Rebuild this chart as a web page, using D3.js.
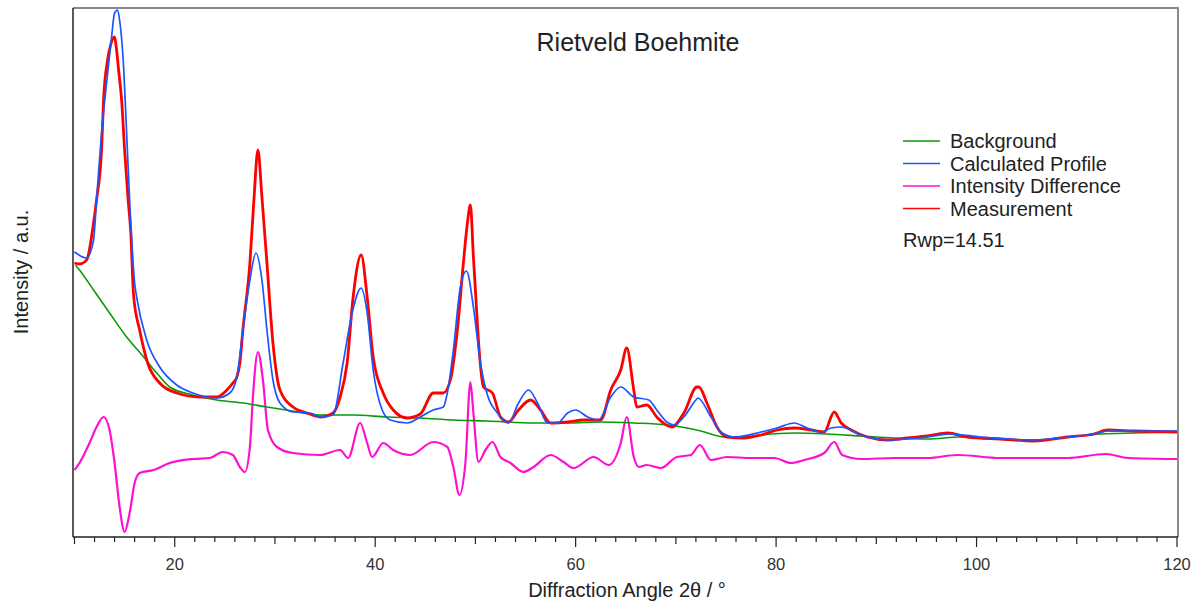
<!DOCTYPE html>
<html>
<head>
<meta charset="utf-8">
<script src="https://cdn.jsdelivr.net/npm/d3@7"></script>
<style>
  body { margin: 0; background: #fff; }
  svg { font-family: "Liberation Sans", Arial, sans-serif; }
</style>
</head>
<body>
<div id="chart"></div>
<script>
// data: [2theta, intensity a.u.]
const background = [
  [10.1, 272], [10.5, 267], [11.9, 247], [13.5, 224], [15.2, 200], [16.9, 180], [18.2, 164],
  [19.5, 150], [21.8, 142], [24.2, 137], [26.8, 134], [29.2, 130], [31.8, 126], [34.5, 122],
  [37.8, 122], [41.2, 120], [44.5, 119], [47.8, 117], [51.2, 116], [55.8, 114], [59.2, 114],
  [62.5, 115], [65.8, 114], [69.1, 112], [71.1, 109], [72.5, 106], [74.8, 100], [76.8, 100],
  [78.5, 102], [81.8, 104], [85.1, 103], [88.5, 101], [91.8, 99], [95.1, 98], [98.4, 100],
  [102.4, 98], [105.7, 97], [109.1, 100], [112.4, 103], [115.7, 104], [120.0, 105]
];

const calculated = [
  [10.0, 285], [11.2, 279], [11.9, 297], [12.2, 337], [12.7, 404], [13.2, 454], [13.7, 500],
  [14.0, 524], [14.3, 527], [14.5, 517], [14.9, 470], [15.2, 404], [15.5, 337], [16.0, 254],
  [16.2, 240], [17.2, 197], [18.5, 170], [20.2, 152], [21.8, 144], [24.2, 139], [25.5, 144],
  [26.2, 160], [26.8, 207], [27.5, 257], [28.1, 284], [28.7, 257], [29.2, 207], [29.8, 157],
  [30.5, 134], [31.8, 125], [33.5, 124], [34.5, 120], [35.8, 122], [36.8, 174], [37.7, 224],
  [38.6, 249], [39.2, 224], [39.8, 167], [40.7, 127], [41.5, 117], [43.2, 114], [44.5, 120],
  [45.8, 127], [46.8, 130], [47.2, 144], [47.8, 187], [48.5, 250], [49.1, 266], [49.8, 230],
  [50.5, 174], [51.2, 142], [52.2, 124], [53.3, 114], [54.3, 134], [55.3, 147], [56.2, 134],
  [57.2, 114], [58.2, 114], [59.2, 124], [60.0, 127], [61.2, 120], [62.3, 117], [63.5, 140],
  [64.5, 150], [65.8, 140], [67.3, 137], [68.1, 127], [69.1, 115], [69.8, 112], [70.8, 120],
  [72.0, 137], [72.2, 139], [73.5, 120], [74.5, 105], [75.8, 100], [78.5, 105], [80.1, 109],
  [81.8, 114], [83.1, 109], [84.5, 105], [85.5, 109], [86.5, 110], [87.8, 105], [89.1, 100],
  [91.1, 97], [95.1, 100], [97.4, 103], [100.4, 100], [105.7, 97], [109.1, 100], [111.7, 103],
  [113.1, 106], [115.7, 106], [120.0, 106]
];

const difference = [
  [10.0, 67], [10.5, 74], [11.5, 94], [12.2, 110], [12.9, 120], [13.5, 107], [14.0, 74],
  [14.5, 30], [15.0, 5], [15.5, 24], [16.0, 54], [16.5, 64], [17.9, 67], [19.5, 74],
  [21.8, 78], [23.5, 79], [24.8, 85], [25.8, 82], [26.5, 70], [27.0, 65], [27.5, 90],
  [27.8, 140], [28.3, 185], [28.8, 157], [29.3, 107], [30.2, 90], [31.8, 84], [34.5, 82],
  [36.5, 87], [37.3, 79], [38.5, 114], [39.2, 94], [39.7, 80], [40.8, 94], [41.8, 87],
  [43.5, 82], [45.8, 95], [47.2, 90], [47.8, 70], [48.4, 42], [49.0, 74], [49.5, 155],
  [49.8, 124], [50.3, 75], [51.0, 87], [51.7, 95], [52.5, 80], [53.5, 74], [54.8, 65],
  [55.8, 70], [57.5, 82], [58.8, 75], [59.8, 69], [61.8, 80], [63.3, 72], [64.5, 94],
  [65.1, 120], [65.8, 80], [66.3, 70], [67.1, 72], [68.5, 69], [70.1, 80], [71.5, 82],
  [72.4, 92], [73.5, 77], [75.1, 80], [77.5, 79], [79.8, 79], [81.5, 74], [82.8, 77],
  [84.8, 84], [85.8, 95], [86.6, 82], [88.5, 78], [91.8, 79], [95.1, 79], [98.1, 82],
  [102.4, 79], [109.1, 79], [112.9, 83], [115.1, 79], [120.0, 78]
];

const measurement = [
  [10.0, 274], [10.5, 273], [11.0, 275], [11.3, 279], [11.8, 307], [12.2, 337], [12.7, 387],
  [12.9, 437], [13.3, 477], [13.6, 492], [14.0, 500], [14.2, 487], [14.4, 467], [14.7, 437],
  [15.0, 387], [15.35, 337], [15.6, 307], [15.9, 241], [16.5, 207], [17.3, 174], [18.5, 154],
  [20.2, 144], [22.5, 140], [24.2, 140], [25.2, 147], [25.8, 154], [26.2, 160], [26.5, 174],
  [26.8, 207], [27.5, 274], [27.9, 337], [28.3, 387], [28.7, 340], [29.2, 274], [29.8, 194],
  [30.5, 147], [31.8, 130], [33.2, 124], [34.5, 120], [35.8, 124], [36.5, 140], [37.2, 174],
  [37.8, 240], [38.6, 282], [39.2, 240], [39.8, 180], [40.8, 144], [41.8, 127], [43.2, 119],
  [44.5, 123], [45.8, 144], [46.8, 144], [47.5, 157], [48.2, 207], [48.8, 274], [49.2, 314],
  [49.5, 332], [49.8, 280], [50.0, 247], [50.3, 197], [50.8, 150], [51.7, 144], [52.5, 120],
  [53.3, 115], [54.3, 127], [55.5, 137], [56.5, 127], [57.5, 114], [59.2, 115], [60.8, 117],
  [62.5, 117], [63.5, 147], [64.5, 167], [65.1, 189], [65.8, 147], [66.1, 130], [67.1, 132],
  [68.1, 120], [69.6, 110], [70.8, 124], [72.1, 150], [72.3, 150], [73.1, 134], [74.1, 110],
  [75.1, 100], [76.8, 99], [78.5, 102], [80.1, 107], [81.8, 109], [83.5, 107], [84.8, 105],
  [85.8, 125], [86.5, 114], [87.5, 107], [89.1, 100], [91.1, 97], [93.1, 99], [95.1, 101],
  [97.1, 104], [99.1, 100], [102.4, 98], [105.7, 96], [109.1, 100], [111.7, 103], [113.1, 107],
  [115.7, 106], [120.0, 105]
];

const seriesNames = ["Background", "Calculated Profile", "Intensity Difference", "Measurement"];
const seriesColors = ["#0a9a0a", "#1a56ff", "#ff10d0", "#ff0000"];
const seriesWidths = [1.6, 1.7, 2.2, 2.8];
const xTickLabels = [20, 40, 60, 80, 100, 120];
const title = "Rietveld Boehmite";
const rwpText = "Rwp=14.51";

const width = 1197, height = 603;
const margin = {top: 8, right: 19, bottom: 66, left: 73};

const svg = d3.select("#chart").append("svg")
    .attr("width", width)
    .attr("height", height);

const x = d3.scaleLinear([10, 120], [margin.left + 1.5, width - margin.right - 1]);
const y = d3.scaleLinear([0, 529], [height - margin.bottom, margin.top]);

// frame (top and right in grey)
svg.append("path")
    .attr("d", `M${margin.left},${margin.top}H${width - margin.right}V${height - margin.bottom}`)
    .attr("fill", "none")
    .attr("stroke", "#8a8a8a")
    .attr("stroke-width", 2);

// curves
const line = d3.line()
    .x(d => x(d[0]))
    .y(d => y(d[1]))
    .curve(d3.curveMonotoneX);

const allSeries = [background, calculated, difference, measurement];
const drawOrder = [2, 0, 3, 1];
drawOrder.forEach(i => {
    svg.append("path")
        .datum(allSeries[i])
        .attr("fill", "none")
        .attr("stroke", seriesColors[i])
        .attr("stroke-width", seriesWidths[i])
        .attr("stroke-linejoin", "round")
        .attr("d", line);
});

// x axis: minor every 2, medium every 10, major every 20
const bottom = height - margin.bottom;
const tickVals = d3.range(10, 121, 2);
svg.append("g")
    .selectAll("line")
    .data(tickVals)
    .join("line")
    .attr("x1", d => x(d)).attr("x2", d => x(d))
    .attr("y1", bottom)
    .attr("y2", d => bottom + (d % 20 === 0 ? 10 : d % 10 === 0 ? 7 : 5))
    .attr("stroke", "#222")
    .attr("stroke-width", 1.2);

svg.append("g")
    .selectAll("text")
    .data(xTickLabels)
    .join("text")
    .attr("x", d => x(d))
    .attr("y", bottom + 33)
    .attr("text-anchor", "middle")
    .attr("font-size", 16.5)
    .attr("fill", "#333")
    .text(d => d);

svg.append("line")
    .attr("x1", margin.left).attr("x2", width - margin.right)
    .attr("y1", bottom).attr("y2", bottom)
    .attr("stroke", "#222").attr("stroke-width", 1.5);

svg.append("line")
    .attr("x1", margin.left).attr("x2", margin.left)
    .attr("y1", margin.top).attr("y2", bottom)
    .attr("stroke", "#222").attr("stroke-width", 1.5);

// axis titles
svg.append("text")
    .attr("x", 627)
    .attr("y", 597)
    .attr("text-anchor", "middle")
    .attr("font-size", 20)
    .attr("fill", "#222")
    .text("Diffraction Angle 2θ / °");

svg.append("text")
    .attr("transform", `translate(28,${272}) rotate(-90)`)
    .attr("text-anchor", "middle")
    .attr("font-size", 20)
    .attr("fill", "#222")
    .text("Intensity / a.u.");

svg.append("text")
    .attr("x", 638)
    .attr("y", 51)
    .attr("text-anchor", "middle")
    .attr("font-size", 25)
    .attr("fill", "#222")
    .text(title);

// legend
const legend = svg.append("g").attr("transform", "translate(903,141)");
seriesNames.forEach((name, i) => {
    const row = legend.append("g").attr("transform", `translate(0,${i * 22.5})`);
    row.append("line")
        .attr("x1", 0).attr("x2", 37)
        .attr("y1", 0).attr("y2", 0)
        .attr("stroke", seriesColors[i])
        .attr("stroke-width", 1.3);
    row.append("text")
        .attr("x", 47)
        .attr("y", 7)
        .attr("font-size", 20)
        .attr("fill", "#222")
        .text(name);
});
legend.append("text")
    .attr("x", 0)
    .attr("y", 106)
    .attr("font-size", 20)
    .attr("fill", "#222")
    .text(rwpText);
</script>
</body>
</html>
